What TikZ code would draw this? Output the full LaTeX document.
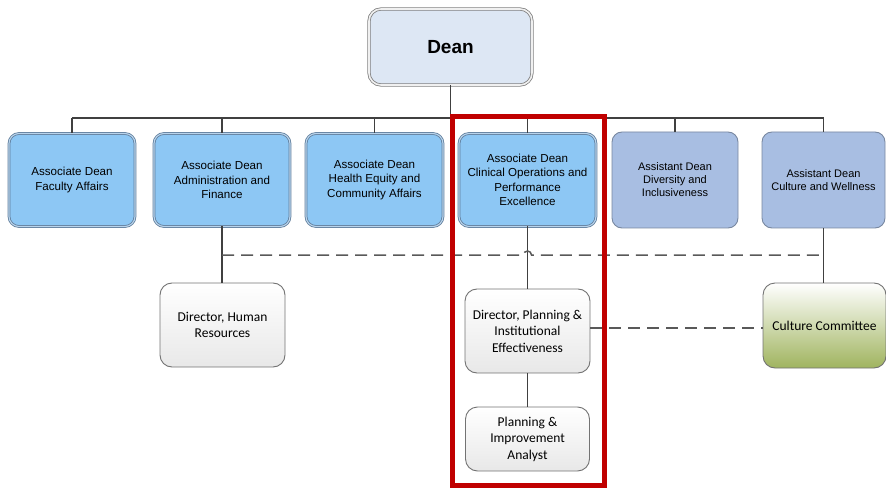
\documentclass[tikz,border=0pt]{standalone}
\usepackage{fontspec}
\setmainfont{Liberation Sans}
\newfontfamily\calib{Carlito}
\begin{document}
\begin{tikzpicture}[x=1pt,y=-1pt,
  conn/.style={draw=black!75,line width=1.1pt},
  dashconn/.style={draw=black!65,line width=1.5pt,dash pattern=on 12pt off 7pt},
  deanbox/.style={draw=black!50,double=black!6,double distance=1.6pt,line width=0.8pt,
     fill=deanfill,rounded corners=12pt,inner sep=0pt,outer sep=0pt,
     minimum width=163pt,minimum height=76pt,font=\fontsize{19}{21}\selectfont\bfseries},
  adbox/.style={draw=adborder,double=adinner,double distance=1.1pt,line width=0.8pt,
     fill=adfill,rounded corners=10pt,inner sep=0pt,outer sep=0pt,align=center,
     minimum height=93pt,font=\fontsize{11.6}{14.5}\selectfont},
  asbox/.style={draw=asborder,line width=0.9pt,fill=asfill,rounded corners=10pt,
     inner sep=0pt,outer sep=0pt,align=center,minimum height=96pt,
     font=\fontsize{11}{13}\selectfont},
  lowbox/.style={draw=black!55,line width=0.9pt,top color=white,bottom color=black!9,
     rounded corners=12pt,inner sep=0pt,outer sep=0pt,align=center,
     font=\calib\fontsize{13.5}{16.5}\selectfont},
]
\definecolor{deanfill}{RGB}{221,231,244}
\definecolor{adfill}{RGB}{141,199,244}
\definecolor{adborder}{RGB}{95,125,155}
\definecolor{adinner}{RGB}{185,212,236}
\definecolor{asfill}{RGB}{168,190,226}
\definecolor{asborder}{RGB}{120,135,160}
\definecolor{ccbottom}{RGB}{160,180,95}
\definecolor{redframe}{RGB}{192,0,0}
\useasboundingbox (0,0) rectangle (886,489);

\node[deanbox] (dean) at (450.5,47) {Dean};

\node[adbox,minimum width=126pt] (fa) at (72,180) {Associate Dean\\Faculty Affairs};
\node[adbox,minimum width=136pt] (af) at (222,180) {Associate Dean\\Administration and\\Finance};
\node[adbox,minimum width=137pt] (he) at (374.5,180) {Associate Dean\\Health Equity and\\Community Affairs};
\node[adbox,minimum width=137pt] (co) at (527.5,180) {Associate Dean\\Clinical Operations and\\Performance\\Excellence};
\node[asbox,minimum width=126pt] (di) at (675,180) {Assistant Dean\\Diversity and\\Inclusiveness};
\node[asbox,minimum width=123pt] (cw) at (823.5,180) {Assistant Dean\\Culture and Wellness};

\node[lowbox,minimum width=125pt,minimum height=84pt] (hr) at (222.5,325) {Director, Human\\Resources};
\node[lowbox,minimum width=125pt,minimum height=84pt] (dp) at (527.5,331) {Director, Planning \&\\Institutional\\Effectiveness};
\node[lowbox,minimum width=123pt,minimum height=85pt,top color=white,bottom color=ccbottom] (cc) at (824.5,325.5) {Culture Committee};
\node[lowbox,minimum width=124pt,minimum height=64pt] (pa) at (527.5,439) {Planning \&\\Improvement\\Analyst};

% bus
\coordinate (busd) at (dean.south |- 0,118);
\coordinate (busl) at (fa.north |- 0,118);
\coordinate (busr) at (cw.north |- 0,118);
\draw[conn] (dean.south) -- (busd);
\draw[conn] (busl) -- (busr);
\foreach \n in {fa,af,he,co,di,cw} {
  \draw[conn] (\n.north |- busd) -- (\n.north);
}
% lower solid connectors
\draw[conn] (af.south) -- (af.south |- hr.north);
\draw[conn] (co.south) -- (dp.north);
\draw[conn] (dp.south) -- (pa.north);
\draw[conn] (cw.south) -- (cw.south |- cc.north);

% dashed connectors
\coordinate (dl) at (af.south |- 0,255);
\coordinate (dr) at (cw.south |- 0,255);
\coordinate (hopa) at ([xshift=-4pt]co.south |- 0,255);
\draw[dashconn] (dl) -- (hopa) arc[start angle=180,end angle=0,radius=4pt] -- (dr);
\draw[dashconn] (dp.east |- 0,328) -- (cc.west |- 0,328);

% red frame
\draw[redframe,line width=5pt] (452,117) rectangle (604,485);
\end{tikzpicture}
\end{document}
